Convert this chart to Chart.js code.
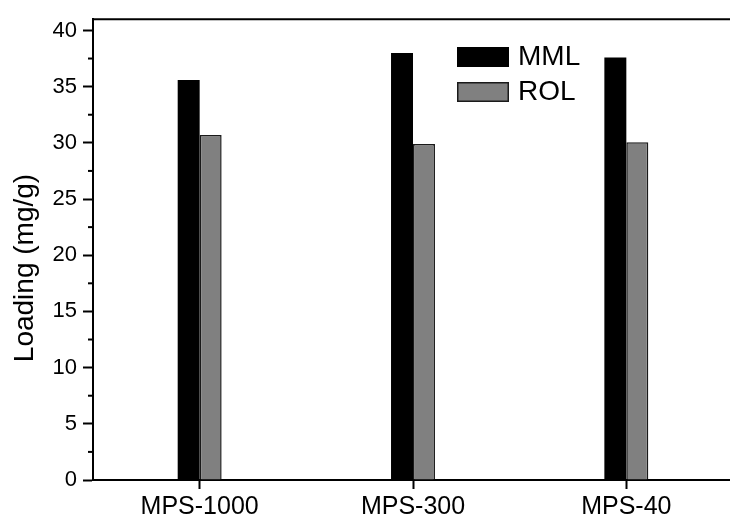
<!DOCTYPE html>
<html>
<head>
<meta charset="utf-8">
<script src="https://cdn.jsdelivr.net/npm/chart.js@4/dist/chart.umd.min.js"></script>
<style>
  html, body { margin: 0; padding: 0; background: #fff; overflow: hidden; }
  #wrap { width: 740px; height: 522px; }
</style>
</head>
<body>
<div id="wrap"><canvas id="loadingChart" width="740" height="522"></canvas></div>
<script>
// Adsorbent samples and measured loadings (mg/g)
const samples = ['MPS-1000', 'MPS-300', 'MPS-40'];
const mmlLoading = [35.6, 38.0, 37.6];
const rolLoading = [30.7, 29.9, 30.05];
const yTickValues = [0, 2.5, 5, 7.5, 10, 12.5, 15, 17.5, 20, 22.5, 25, 27.5, 30, 32.5, 35, 37.5, 40];
const yMajorStep = 5;
const yAxisTitle = 'Loading (mg/g)';

const FONT = 'Arial, "Liberation Sans", sans-serif';

// Minor y ticks, frame top line, y title and the legend boxes
const frameAndLegend = {
    id: 'frameAndLegend',
    afterDraw(chart) {
        const ctx = chart.ctx;
        const area = chart.chartArea;
        const y = chart.scales.y;

        ctx.save();
        ctx.strokeStyle = '#000';
        ctx.lineWidth = 2;

        // top border of the frame
        ctx.beginPath();
        ctx.moveTo(area.left - 1, area.top);
        ctx.lineTo(area.right, area.top);
        ctx.stroke();

        // short minor ticks between the labelled ones
        y.ticks.forEach(t => {
            if (t.value % yMajorStep !== 0) {
                const py = y.getPixelForValue(t.value);
                ctx.beginPath();
                ctx.moveTo(area.left - 5, py);
                ctx.lineTo(area.left, py);
                ctx.stroke();
            }
        });

        // y axis title, sitting a bit below the middle of the axis
        ctx.save();
        ctx.translate(25, 268);
        ctx.rotate(-Math.PI / 2);
        ctx.fillStyle = '#000';
        ctx.font = '28px ' + FONT;
        ctx.textAlign = 'center';
        ctx.textBaseline = 'middle';
        ctx.fillText(yAxisTitle, 0, 0);
        ctx.restore();

        // legend
        const boxX = 457, boxW = 52, boxH = 20;
        const rows = [47, 82];
        chart.data.datasets.forEach((ds, i) => {
            const top = rows[i];
            ctx.fillStyle = ds.backgroundColor;
            ctx.fillRect(boxX, top, boxW, boxH);
            ctx.lineWidth = 1.5;
            ctx.strokeStyle = ds.borderColor;
            ctx.strokeRect(boxX + 0.75, top + 0.75, boxW - 1.5, boxH - 1.5);
            ctx.fillStyle = '#000';
            ctx.font = '28px ' + FONT;
            ctx.textBaseline = 'middle';
            ctx.textAlign = 'left';
            ctx.fillText(ds.label, boxX + boxW + 9, top + boxH / 2);
        });
        ctx.restore();
    }
};

new Chart(document.getElementById('loadingChart'), {
    type: 'bar',
    data: {
        labels: samples,
        datasets: [
            {
                label: 'MML',
                data: mmlLoading,
                backgroundColor: '#000000',
                borderColor: '#000000',
                borderWidth: 0
            },
            {
                label: 'ROL',
                data: rolLoading,
                backgroundColor: '#808080',
                borderColor: '#1a1a1a',
                borderWidth: 1.5
            }
        ]
    },
    options: {
        responsive: false,
        animation: false,
        layout: {
            padding: { top: 14, right: 7, left: 0, bottom: 0 }
        },
        datasets: {
            bar: {
                categoryPercentage: 0.206,
                barPercentage: 1.0
            }
        },
        plugins: {
            legend: { display: false },
            tooltip: { enabled: false }
        },
        scales: {
            x: {
                offset: true,
                grid: {
                    display: true,
                    drawOnChartArea: false,
                    drawTicks: true,
                    tickLength: 9,
                    tickWidth: 2,
                    tickColor: '#000',
                    offset: false
                },
                border: { color: '#000', width: 2 },
                ticks: {
                    color: '#000',
                    font: { family: FONT, size: 25 },
                    padding: 3,
                    maxRotation: 0
                },
                afterFit(scale) { scale.height = 42; }
            },
            y: {
                min: 0,
                max: 41,
                afterBuildTicks(scale) {
                    scale.ticks = yTickValues.map(v => ({ value: v }));
                },
                grid: {
                    display: true,
                    drawOnChartArea: false,
                    drawTicks: true,
                    tickLength: 10,
                    tickWidth: 2,
                    tickColor: c => (c.tick && c.tick.value % yMajorStep === 0) ? '#000' : 'rgba(0,0,0,0)'
                },
                border: { color: '#000', width: 2 },
                ticks: {
                    autoSkip: false,
                    color: '#000',
                    font: { family: FONT, size: 22 },
                    padding: 6,
                    callback: v => (v % yMajorStep === 0 ? String(v) : '')
                },
                afterFit(scale) { scale.width = 93; }
            }
        }
    },
    plugins: [frameAndLegend]
});
</script>
</body>
</html>
